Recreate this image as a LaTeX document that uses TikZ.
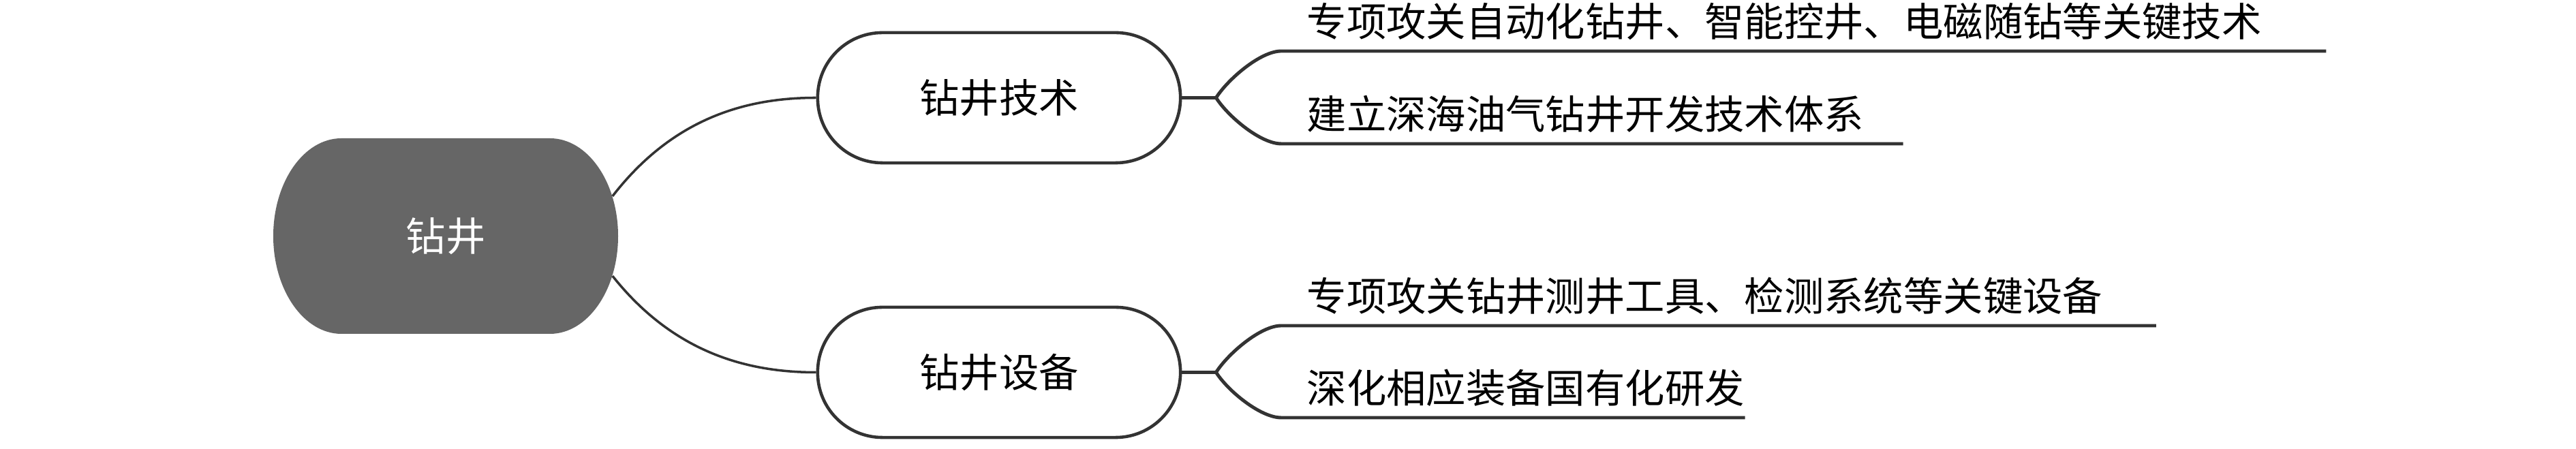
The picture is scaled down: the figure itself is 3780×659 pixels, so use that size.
\documentclass[tikz,border=0pt]{standalone}
\usepackage{fontspec}
\setmainfont{Noto Sans CJK SC}
\usetikzlibrary{calc}
\definecolor{rootgray}{HTML}{666666}
\definecolor{linegray}{HTML}{333333}
\begin{document}
\begin{tikzpicture}[x=0.01cm,y=-0.01cm,
  txt/.style={font=\fontsize{16.6}{18}\selectfont},
  conn/.style={draw=linegray, line width=1.0pt},
  uline/.style={draw=linegray, line width=1.4pt, line join=round},
  branchbox/.style={txt, draw=linegray, line width=1.3pt, fill=white,
    rounded corners=0.95cm, minimum width=5.32cm, minimum height=1.91cm, inner sep=0pt},
  rootbox/.style={txt, text=white, minimum width=5.06cm, minimum height=2.87cm, inner sep=0pt},
  leaf/.style={txt, anchor=west, inner sep=0pt},
]
\useasboundingbox (0,0) rectangle (3780,659);

% root shape (rounded with elliptical corners)
\fill[rootgray] (501,203) -- (807,203) .. controls (862.2,203) and (907,267.2) .. (907,346.5)
  .. controls (907,425.8) and (862.2,490) .. (807,490)
  -- (501,490) .. controls (445.8,490) and (401,425.8) .. (401,346.5)
  .. controls (401,267.2) and (445.8,203) .. (501,203) -- cycle;
\node[rootbox] (root) at (654,346.5) {钻井};

% branch nodes
\node[branchbox] (n1) at (1466,143.5) {钻井技术};
\node[branchbox] (n2) at (1466,546.5) {钻井设备};

% root connectors
\draw[conn] ($(root.13)+(-9,0)$) .. controls (990,170) and (1100,143.5) .. (n1.west);
\draw[conn] ($(root.-13)+(-9,0)$) .. controls (990,520) and (1100,546.5) .. (n2.west);

% leaves
\node[leaf] (t11) at (1917,31) {专项攻关自动化钻井、智能控井、电磁随钻等关键技术};
\node[leaf] (t12) at (1917,167) {建立深海油气钻井开发技术体系};
\node[leaf] (t21) at (1917,434) {专项攻关钻井测井工具、检测系统等关键设备};
\node[leaf] (t22) at (1917,569) {深化相应装备国有化研发};

\coordinate (f1) at ($(n1.east)+(50,0)$);
\coordinate (f2) at ($(n2.east)+(50,0)$);
\coordinate (e11) at ($(t11.east)+(94,44)$);
\coordinate (e12) at ($(t12.east)+(57,44)$);
\coordinate (e21) at ($(t21.east)+(78,44)$);
\coordinate (e22) at ($(t22.east)+(0,44)$);

\draw[uline] (n1.east) -- (f1);
\draw[uline] (f1) .. controls ($(f1)+(18,-28)$) and (1850,75) .. (1880,75) -- (e11);
\draw[uline] (f1) .. controls ($(f1)+(18,28)$) and (1850,211) .. (1880,211) -- (e12);
\draw[uline] (n2.east) -- (f2);
\draw[uline] (f2) .. controls ($(f2)+(18,-28)$) and (1850,478) .. (1880,478) -- (e21);
\draw[uline] (f2) .. controls ($(f2)+(18,28)$) and (1850,613) .. (1880,613) -- (e22);
\end{tikzpicture}
\end{document}
